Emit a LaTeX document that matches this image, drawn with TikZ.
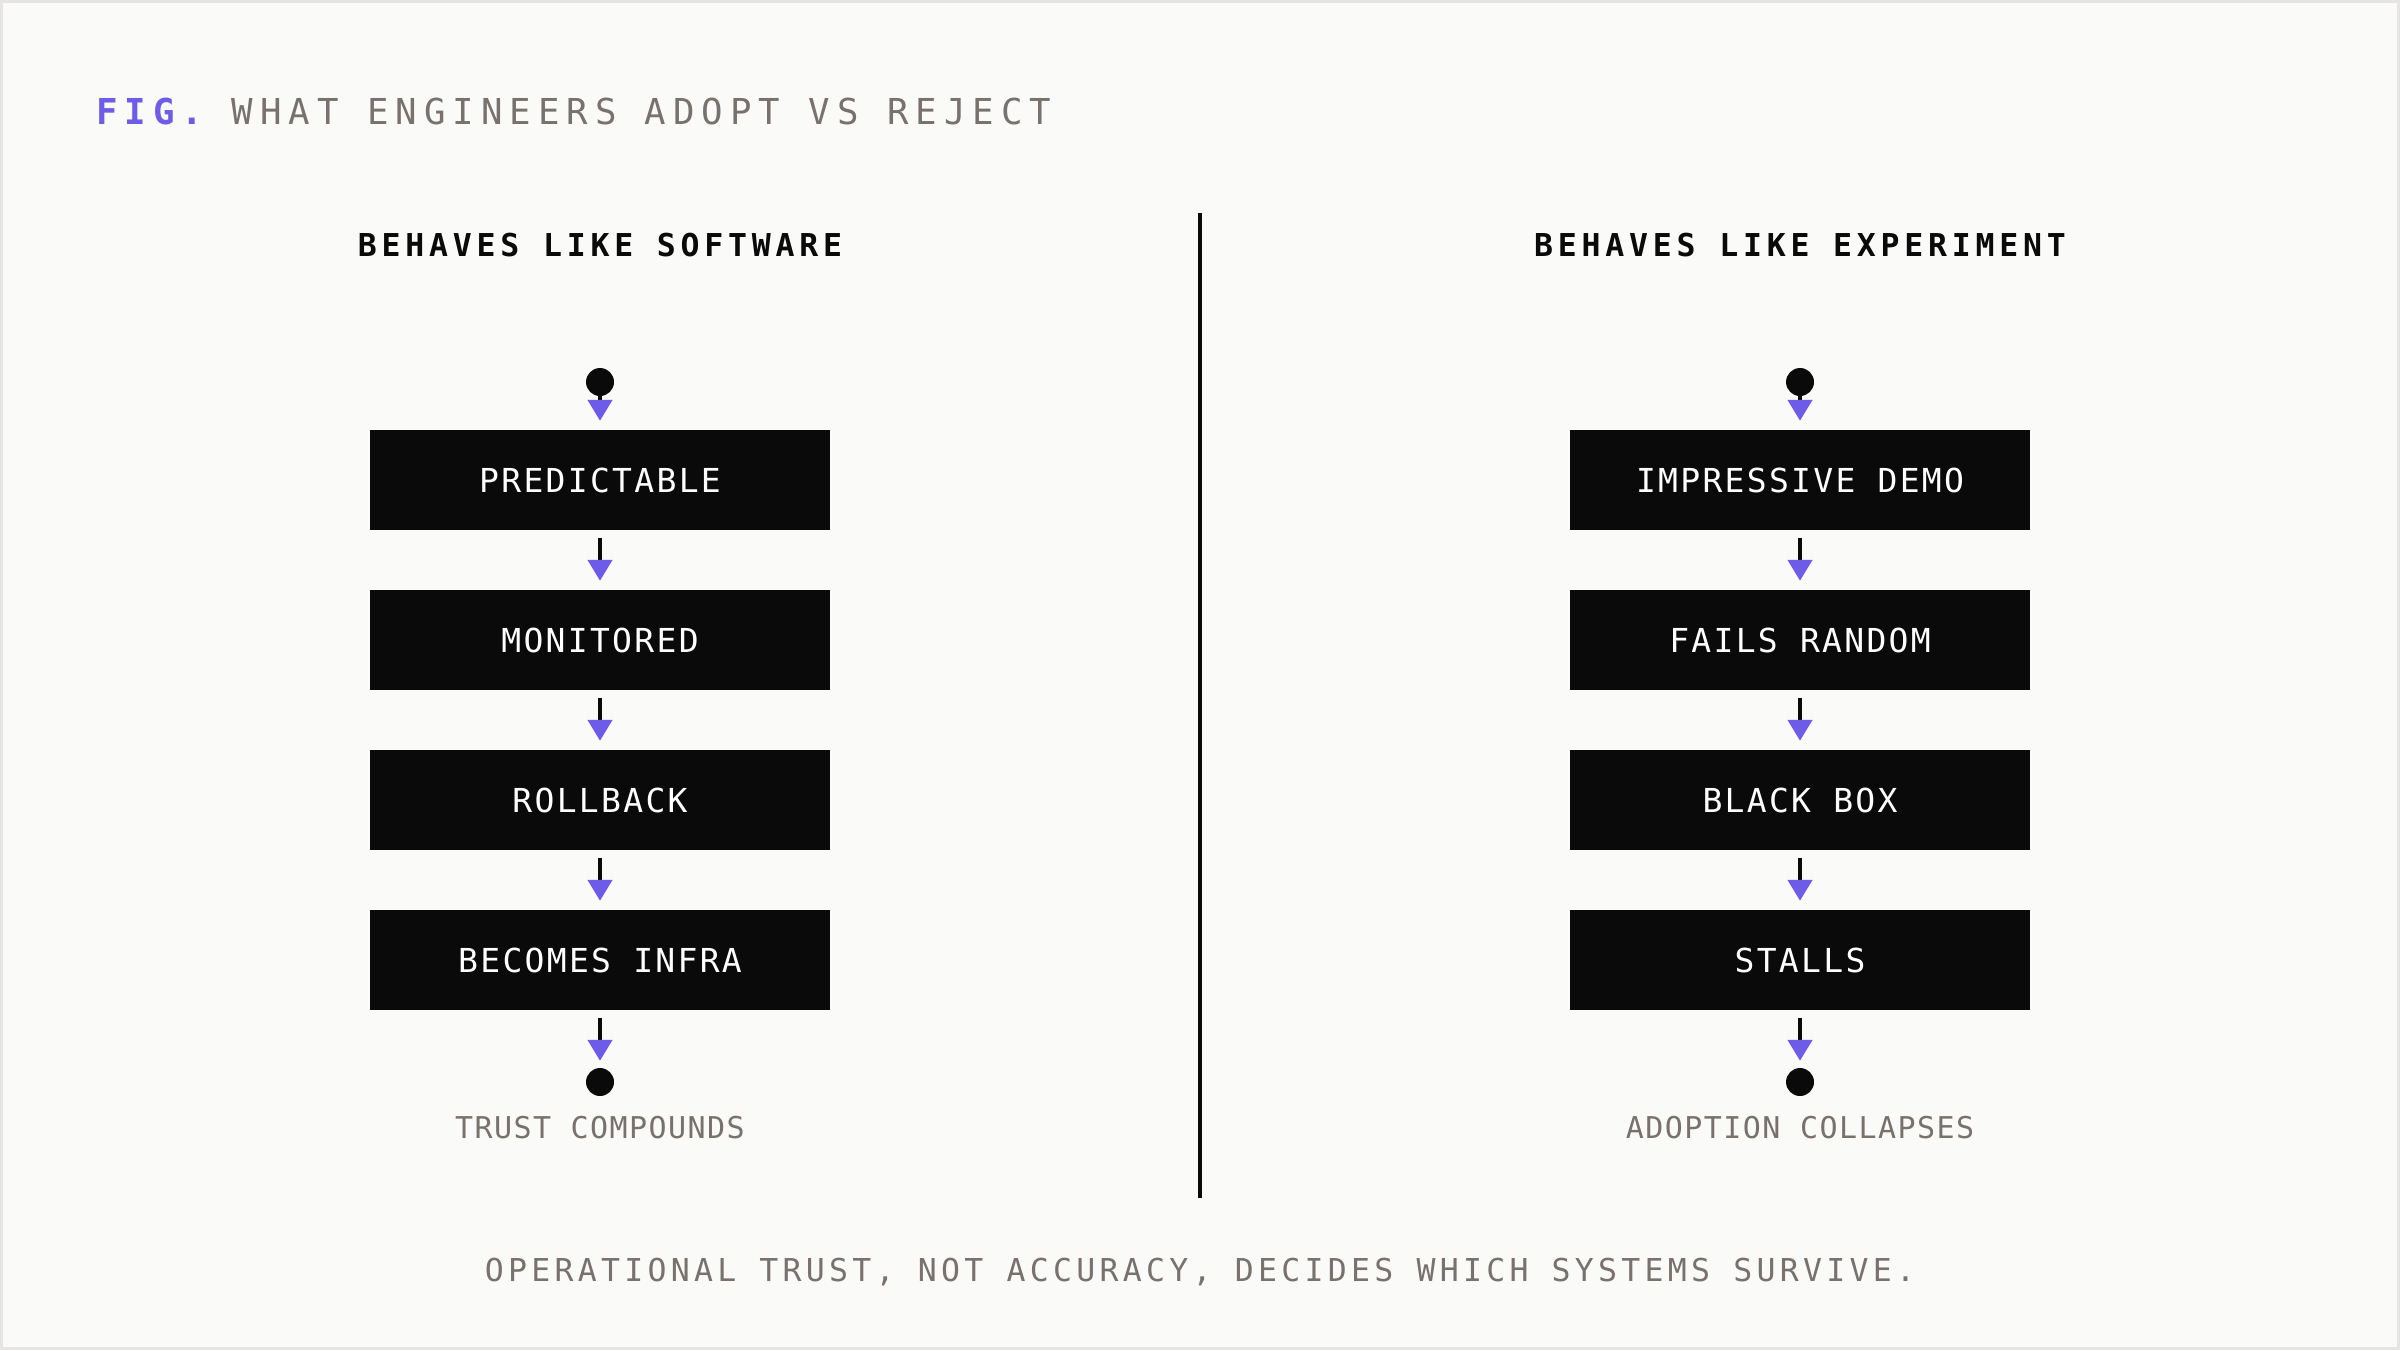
\documentclass[tikz,border=0pt]{standalone}
\usepackage{fontspec}
\usetikzlibrary{arrows.meta}
\newfontfamily\titlefont[LetterSpace=19.6]{DejaVu Sans Mono}
\newfontfamily\headfont[LetterSpace=15.2]{DejaVu Sans Mono}
\newfontfamily\boxfont[LetterSpace=7]{DejaVu Sans Mono}
\newfontfamily\capfont[LetterSpace=4.8]{DejaVu Sans Mono}
\newfontfamily\footfont[LetterSpace=13.6]{DejaVu Sans Mono}
\definecolor{bg}{HTML}{FAFAF9}
\definecolor{frame}{HTML}{E6E5E3}
\definecolor{ink}{HTML}{0A0A0A}
\definecolor{greytext}{HTML}{78716C}
\definecolor{accent}{HTML}{6C5CE7}
\begin{document}
\begin{tikzpicture}[x=1pt,y=-1pt,
  stepbox/.style={fill=ink, minimum width=460, minimum height=100, inner sep=0, text=white,
    font=\boxfont\fontsize{33}{38}\selectfont},
  dotnode/.style={circle, fill=ink, minimum size=28, inner sep=0},
  flow/.style={draw=ink, line width=4.5, -{Triangle[length=21pt,width=24pt,color=accent]}},
  headtext/.style={anchor=base, inner sep=0, text=ink, font=\headfont\bfseries\fontsize{31.5}{36}\selectfont},
  captext/.style={anchor=base, inner sep=0, text=greytext, font=\capfont\fontsize{30}{34}\selectfont}
]
\useasboundingbox (0,0) rectangle (2400,1350);
\fill[bg] (0,0) rectangle (2400,1350);
\draw[frame, line width=3] (1.5,1.5) rectangle (2398.5,1348.5);

% title
\node[anchor=base west, inner sep=0, text=greytext] (title) at (96,124)
  {\titlefont\fontsize{35.7}{40}\selectfont{\bfseries\color{accent}FIG.} WHAT ENGINEERS ADOPT VS REJECT};

% divider
\coordinate (dtop) at (1200,213);
\coordinate (dbot) at (1200,1198);
\draw[ink, line width=4.5] (dtop) -- (dbot);

% headers
\node[headtext] (lh) at (600,256) {BEHAVES LIKE SOFTWARE};
\node[headtext] (rh) at (1800,256) {BEHAVES LIKE EXPERIMENT};

% left column
\node[dotnode] (ls) at (600,382) {};
\node[stepbox] (l1) at (600,480) {PREDICTABLE};
\node[stepbox] (l2) at (600,640) {MONITORED};
\node[stepbox] (l3) at (600,800) {ROLLBACK};
\node[stepbox] (l4) at (600,960) {BECOMES INFRA};
\node[dotnode] (le) at (600,1082) {};
\node[captext] (lc) at (600,1138) {TRUST COMPOUNDS};

% right column
\node[dotnode] (rs) at (1800,382) {};
\node[stepbox] (r1) at (1800,480) {IMPRESSIVE DEMO};
\node[stepbox] (r2) at (1800,640) {FAILS RANDOM};
\node[stepbox] (r3) at (1800,800) {BLACK BOX};
\node[stepbox] (r4) at (1800,960) {STALLS};
\node[dotnode] (re) at (1800,1082) {};
\node[captext] (rc) at (1800,1138) {ADOPTION COLLAPSES};

% connectors
\foreach \c in {l,r}{
  \draw[flow, shorten >=9pt] (\c s) -- (\c 1);
  \draw[flow, shorten <=8pt, shorten >=9pt] (\c 1) -- (\c 2);
  \draw[flow, shorten <=8pt, shorten >=9pt] (\c 2) -- (\c 3);
  \draw[flow, shorten <=8pt, shorten >=9pt] (\c 3) -- (\c 4);
  \draw[flow, shorten <=8pt, shorten >=7pt] (\c 4) -- (\c e);
}

% footer
\node[anchor=base, inner sep=0, text=greytext] (foot) at (1200,1281)
  {\footfont\fontsize{31.5}{36}\selectfont OPERATIONAL TRUST, NOT ACCURACY, DECIDES WHICH SYSTEMS SURVIVE.};
\end{tikzpicture}
\end{document}
